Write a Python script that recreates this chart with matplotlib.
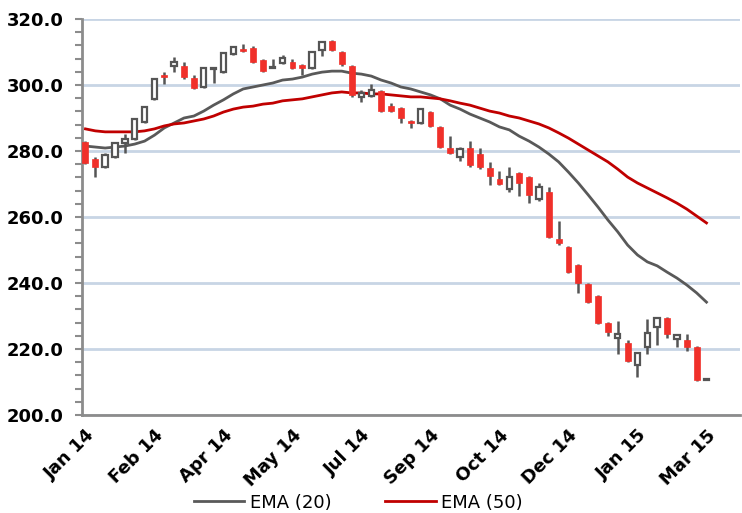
import matplotlib
matplotlib.use("Agg")
import matplotlib.pyplot as plt
from matplotlib.ticker import MultipleLocator

# weekly candles, Jan 2014 - Mar 2015
opens = [282.7, 277.6, 275.2, 278.2, 282.4, 283.6, 288.8, 295.8, 303.0, 305.8,
         305.8, 302.1, 299.4, 304.8, 303.9, 309.4, 310.9, 311.2, 307.6, 305.3,
         306.7, 307.0, 306.1, 305.2, 310.6, 313.3, 310.0, 305.8, 296.4, 296.7,
         298.2, 293.6, 293.0, 289.1, 288.5, 291.8, 287.3, 280.9, 278.2, 280.9,
         279.1, 274.8, 271.5, 268.5, 273.3, 272.1, 265.5, 267.6, 253.3, 250.9,
         245.5, 239.7, 236.1, 227.9, 223.3, 221.8, 215.2, 220.6, 226.7, 229.4,
         223.0, 222.7, 220.6, 210.6]
highs = [283.0, 278.2, 279.4, 282.8, 285.2, 290.0, 293.6, 302.1, 303.9, 308.5,
         307.0, 303.0, 305.5, 305.2, 310.0, 311.8, 312.4, 311.8, 307.9, 307.9,
         309.1, 307.9, 306.3, 310.3, 313.3, 313.6, 310.3, 306.1, 298.5, 300.3,
         298.5, 294.5, 293.3, 289.4, 293.0, 292.1, 287.6, 284.5, 281.2, 283.0,
         280.9, 276.7, 273.9, 275.2, 273.6, 272.4, 270.3, 269.1, 258.8, 251.2,
         245.8, 240.0, 236.4, 228.2, 228.5, 222.7, 219.1, 229.1, 229.7, 229.7,
         224.5, 224.5, 220.9, 210.8]
lows = [276.2, 272.1, 274.9, 277.9, 279.4, 283.3, 288.5, 295.5, 300.3, 303.9,
        301.8, 298.8, 299.1, 300.6, 303.6, 309.1, 310.0, 306.7, 304.0, 305.2,
        306.4, 305.0, 303.0, 305.0, 308.8, 310.3, 305.8, 296.4, 294.8, 296.4,
        291.8, 291.8, 288.5, 287.0, 288.2, 287.3, 280.9, 279.1, 277.0, 275.2,
        274.5, 269.7, 269.7, 267.6, 266.4, 264.2, 264.8, 253.6, 251.5, 243.0,
        237.0, 233.9, 227.6, 223.9, 218.5, 216.1, 211.5, 218.5, 221.2, 223.3,
        220.6, 219.4, 210.3, 210.5]
closes = [276.5, 275.2, 278.8, 282.4, 283.6, 289.7, 293.3, 301.8, 302.4, 307.0,
          302.4, 299.1, 305.2, 305.0, 309.7, 311.5, 310.3, 307.0, 304.2, 305.3,
          308.2, 305.2, 305.2, 310.0, 313.0, 310.6, 306.4, 297.0, 297.6, 298.5,
          292.1, 292.1, 290.0, 288.5, 292.7, 287.6, 281.2, 279.4, 280.6, 275.8,
          275.2, 272.4, 270.0, 272.1, 270.3, 266.7, 269.1, 253.9, 252.1, 243.3,
          240.0, 234.2, 227.9, 225.2, 224.5, 216.4, 218.8, 224.8, 229.4, 224.5,
          224.2, 220.6, 210.6, 210.6]

ema20 = [281.5, 281.2, 280.9, 281.2, 281.5, 282.1, 283.0, 284.8, 287.0, 288.5,
         290.0, 290.6, 292.1, 293.9, 295.5, 297.3, 298.8, 299.4, 300.0, 300.6,
         301.5, 301.8, 302.4, 303.3, 303.9, 304.2, 304.2, 303.6, 303.3, 302.7,
         301.5, 300.6, 299.4, 298.8, 297.9, 297.0, 295.8, 293.9, 292.7, 291.2,
         290.0, 288.8, 287.3, 286.4, 284.5, 283.0, 281.2, 279.1, 276.7, 273.6,
         270.3, 266.7, 263.0, 259.1, 255.5, 251.5, 248.5, 246.4, 245.2, 243.3,
         241.5, 239.4, 237.0, 234.2]
ema50 = [286.7, 286.1, 285.8, 285.8, 285.8, 285.8, 286.1, 286.7, 287.6, 288.2,
         288.5, 289.1, 289.7, 290.6, 291.8, 292.7, 293.3, 293.6, 294.2, 294.5,
         295.2, 295.5, 295.8, 296.4, 297.0, 297.6, 297.9, 297.6, 297.6, 297.3,
         297.3, 297.0, 296.7, 296.4, 296.4, 296.1, 295.8, 295.2, 294.5, 293.9,
         293.0, 292.1, 291.5, 290.6, 290.0, 289.1, 288.2, 287.0, 285.5, 283.9,
         282.1, 280.3, 278.5, 276.7, 274.5, 272.1, 270.3, 268.8, 267.3, 265.8,
         264.2, 262.4, 260.3, 258.2]

tick_labels = ['Jan 14', 'Feb 14', 'Apr 14', 'May 14', 'Jul 14', 'Sep 14',
               'Oct 14', 'Dec 14', 'Jan 15', 'Mar 15']

x = list(range(len(opens)))
up_col = 'white'
down_col = '#f0302a'
wick_col = '#555555'

fig = plt.figure(figsize=(7.42, 5.13), dpi=100)
ax = fig.add_axes([82/742, 1-415/513, 658/742, 396/513])

ax.vlines(x, lows, highs, color=wick_col, lw=1.8, zorder=3)
for i in x:
    o, c = opens[i], closes[i]
    h = max(abs(c - o), 0.3)
    if c >= o:
        ax.bar(i, h, bottom=min(o, c), width=0.55, color=up_col,
               edgecolor=wick_col, lw=1.6, zorder=4)
    else:
        ax.bar(i, h, bottom=c, width=0.6, color=down_col,
               edgecolor=down_col, lw=0.5, zorder=4)

ax.plot(x, ema20, color='#595959', lw=2, label='EMA (20)', zorder=2)
ax.plot(x, ema50, color='#c00000', lw=2, label='EMA (50)', zorder=2)

ax.set_ylim(200, 320)
ax.set_xlim(-0.35, 66.4)
ax.yaxis.set_major_locator(MultipleLocator(20))
ax.yaxis.set_minor_locator(MultipleLocator(4))
ax.yaxis.set_major_formatter(lambda v, p: f'{v:.1f}')
ax.grid(axis='y', color='#c8d5e5', lw=2, zorder=0)
ax.set_axisbelow(True)

ax.set_xticks(range(0, len(x), 7))
ax.set_xticklabels(tick_labels, rotation=45, ha='right', va='top',
                   rotation_mode='anchor', fontsize=13, fontweight='bold')
ax.tick_params(axis='x', length=0, pad=8)
ax.tick_params(axis='y', which='both', length=5, color='#8c8c8c', width=1.5,
               pad=8, labelsize=13)
for lbl in ax.get_yticklabels():
    lbl.set_fontweight('bold')

for s in ['top', 'right']:
    ax.spines[s].set_visible(False)
for s in ['left', 'bottom']:
    ax.spines[s].set_color('#8c8c8c')
    ax.spines[s].set_linewidth(2)

fig.legend(loc='center', bbox_to_anchor=(0.483, 0.02), ncol=2, frameon=False,
           fontsize=13, handlelength=2.8, handletextpad=0.3, columnspacing=3)

fig.savefig('out.png', dpi=100)
